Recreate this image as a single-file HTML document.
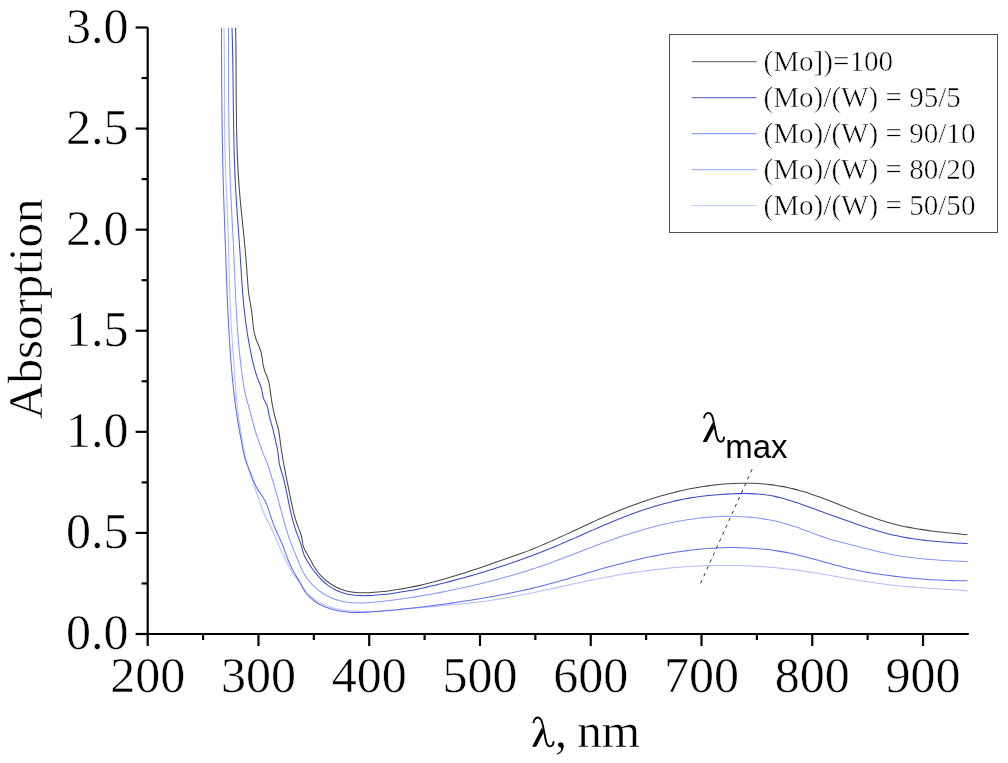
<!DOCTYPE html>
<html><head><meta charset="utf-8"><style>
html,body{margin:0;padding:0;background:#fff;width:1008px;height:763px;overflow:hidden}
svg{display:block}
#w{will-change:transform;width:1008px;height:763px}
.s{font-family:"Liberation Serif",serif;fill:#000;stroke:#fff;stroke-width:0.5px}
.a{font-family:"Liberation Sans",sans-serif;fill:#000}
</style></head><body>
<div id="w"><svg width="1008" height="763" viewBox="0 0 1008 763">
<rect width="1008" height="763" fill="#fff"/>
<path d="M223.90,27.75 C223.95,29.76 224.00,31.78 224.04,33.79 C224.08,35.81 224.12,37.82 224.16,39.83 C224.19,41.85 224.22,43.86 224.25,45.88 C224.27,47.89 224.30,49.90 224.32,51.92 C224.34,53.93 224.36,55.95 224.37,57.96 C224.39,59.98 224.40,61.99 224.41,64.01 C224.43,66.02 224.43,68.03 224.44,70.05 C224.45,72.06 224.46,74.08 224.46,76.09 C224.47,78.11 224.47,80.12 224.47,82.14 C224.48,84.15 224.48,86.17 224.48,88.18 C224.48,90.20 224.49,92.21 224.49,94.23 C224.49,96.24 224.49,98.26 224.50,100.27 C224.50,102.29 224.51,104.30 224.51,106.32 C224.52,108.33 224.52,110.34 224.53,112.36 C224.54,114.37 224.55,116.39 224.56,118.40 C224.57,120.42 224.58,122.43 224.60,124.45 C224.62,126.46 224.64,128.48 224.66,130.49 C224.68,132.50 224.70,134.52 224.73,136.53 C224.76,138.55 224.79,140.56 224.83,142.58 C224.86,144.59 224.90,146.60 224.94,148.62 C224.99,150.63 225.03,152.65 225.09,154.66 C225.14,156.67 225.20,158.69 225.26,160.70 C225.32,162.71 225.39,164.73 225.46,166.74 C225.53,168.75 225.60,170.77 225.68,172.78 C225.76,174.79 225.84,176.81 225.92,178.82 C226.01,180.83 226.09,182.85 226.18,184.86 C226.26,186.87 226.35,188.88 226.43,190.90 C226.52,192.91 226.60,194.92 226.69,196.94 C226.77,198.95 226.86,200.96 226.94,202.97 C227.03,204.99 227.11,207.00 227.19,209.01 C227.27,211.02 227.36,213.04 227.44,215.05 C227.51,217.06 227.59,219.07 227.67,221.09 C227.75,223.10 227.82,225.11 227.90,227.13 C227.97,229.14 228.04,231.15 228.11,233.17 C228.18,235.18 228.25,237.19 228.32,239.21 C228.38,241.22 228.45,243.23 228.51,245.25 C228.57,247.26 228.63,249.27 228.68,251.29 C228.74,253.30 228.79,255.31 228.84,257.33 C228.89,259.34 228.94,261.36 228.99,263.37 C229.04,265.39 229.09,267.40 229.13,269.42 C229.18,271.43 229.23,273.44 229.28,275.46 C229.33,277.47 229.38,279.49 229.44,281.50 C229.49,283.51 229.54,285.53 229.60,287.54 C229.66,289.56 229.72,291.57 229.79,293.58 C229.86,295.60 229.93,297.61 230.00,299.62 C230.08,301.64 230.16,303.65 230.24,305.66 C230.33,307.67 230.42,309.69 230.52,311.70 C230.62,313.71 230.73,315.72 230.84,317.73 C230.95,319.74 231.07,321.75 231.19,323.76 C231.31,325.77 231.43,327.78 231.56,329.79 C231.69,331.80 231.82,333.81 231.96,335.82 C232.09,337.83 232.23,339.84 232.37,341.85 C232.51,343.86 232.65,345.87 232.79,347.88 C232.93,349.89 233.07,351.90 233.20,353.91 C233.34,355.92 233.48,357.93 233.62,359.94 C233.75,361.95 233.89,363.96 234.02,365.98 C234.15,367.99 234.28,370.00 234.41,372.01 C234.54,374.02 234.68,376.03 234.81,378.04 C234.95,380.05 235.09,382.06 235.24,384.07 C235.38,386.08 235.54,388.08 235.70,390.09 C235.86,392.10 236.03,394.11 236.21,396.11 C236.40,398.12 236.59,400.12 236.80,402.12 C237.01,404.13 237.23,406.13 237.46,408.13 C237.70,410.13 237.94,412.13 238.20,414.12 C238.45,416.12 238.72,418.12 239.00,420.11 C239.28,422.11 239.57,424.10 239.87,426.10 C240.17,428.09 240.48,430.08 240.80,432.07 C241.11,434.06 241.44,436.05 241.78,438.04 C242.12,440.02 242.46,442.01 242.82,443.99 C243.17,445.98 243.53,447.96 243.91,449.94 C244.29,451.92 244.68,453.89 245.11,455.86 C245.54,457.83 245.99,459.78 246.50,461.73 C247.00,463.68 247.54,465.62 248.14,467.54 C248.74,469.46 249.39,471.37 250.04,473.28 C250.70,475.19 251.36,477.10 251.99,479.01 C252.61,480.93 253.21,482.85 253.82,484.77 C254.44,486.68 255.07,488.59 255.74,490.49 C256.41,492.39 257.11,494.27 257.80,496.17 C258.49,498.06 259.16,499.96 259.80,501.87 C260.44,503.79 261.07,505.70 261.74,507.60 C262.40,509.51 263.10,511.39 263.89,513.25 C264.67,515.10 265.54,516.91 266.46,518.71 C267.37,520.50 268.32,522.28 269.26,524.07 C270.20,525.85 271.11,527.65 271.96,529.48 C272.81,531.30 273.62,533.14 274.41,535.00 C275.19,536.85 275.96,538.71 276.73,540.57 C277.51,542.43 278.28,544.29 279.09,546.13 C279.90,547.97 280.74,549.80 281.62,551.61 C282.49,553.42 283.39,555.22 284.29,557.02 C285.19,558.82 286.07,560.63 286.96,562.44 C287.84,564.24 288.74,566.04 289.68,567.81 C290.62,569.58 291.62,571.32 292.70,573.00 C293.78,574.69 294.95,576.32 296.15,577.93 C297.35,579.55 298.58,581.14 299.80,582.75 C301.02,584.36 302.20,586.00 303.36,587.66 C304.51,589.31 305.66,590.97 306.94,592.50 C308.22,594.04 309.63,595.45 311.14,596.76 C312.64,598.06 314.25,599.26 315.93,600.35 C317.61,601.45 319.36,602.44 321.15,603.33 C322.95,604.23 324.79,605.03 326.67,605.74 C328.55,606.46 330.47,607.09 332.42,607.65 C334.37,608.20 336.34,608.68 338.34,609.10 C340.33,609.52 342.35,609.87 344.37,610.17 C346.39,610.46 348.42,610.70 350.45,610.90 C352.48,611.09 354.50,611.24 356.53,611.36 C358.55,611.47 360.57,611.54 362.58,611.58 C364.59,611.62 366.61,611.62 368.61,611.59 C370.62,611.57 372.63,611.51 374.63,611.44 C376.64,611.36 378.64,611.25 380.64,611.13 C382.64,611.01 384.64,610.87 386.64,610.71 C388.64,610.56 390.64,610.39 392.63,610.21 C394.63,610.03 396.63,609.84 398.63,609.65 C400.63,609.46 402.63,609.26 404.63,609.07 C406.63,608.87 408.63,608.68 410.63,608.49 C412.63,608.30 414.64,608.12 416.65,607.94 C418.65,607.76 420.66,607.58 422.67,607.40 C424.67,607.23 426.68,607.06 428.69,606.88 C430.70,606.71 432.71,606.54 434.72,606.36 C436.74,606.19 438.75,606.02 440.76,605.84 C442.77,605.67 444.78,605.49 446.79,605.31 C448.80,605.13 450.81,604.94 452.82,604.75 C454.83,604.56 456.84,604.37 458.85,604.17 C460.86,603.97 462.87,603.76 464.88,603.55 C466.88,603.34 468.89,603.12 470.89,602.89 C472.90,602.66 474.90,602.42 476.90,602.18 C478.90,601.93 480.90,601.67 482.90,601.41 C484.90,601.14 486.89,600.86 488.88,600.57 C490.88,600.28 492.87,599.98 494.86,599.66 C496.85,599.35 498.83,599.03 500.82,598.70 C502.80,598.37 504.79,598.03 506.77,597.68 C508.75,597.33 510.73,596.97 512.71,596.61 C514.69,596.24 516.67,595.87 518.65,595.49 C520.62,595.11 522.60,594.73 524.57,594.34 C526.55,593.95 528.52,593.55 530.49,593.15 C532.47,592.75 534.44,592.34 536.41,591.93 C538.38,591.52 540.35,591.10 542.32,590.69 C544.29,590.27 546.26,589.85 548.23,589.43 C550.20,589.01 552.17,588.58 554.13,588.16 C556.10,587.73 558.07,587.30 560.04,586.88 C562.01,586.45 563.98,586.02 565.94,585.59 C567.91,585.17 569.88,584.74 571.85,584.32 C573.82,583.89 575.79,583.47 577.76,583.05 C579.73,582.62 581.70,582.21 583.67,581.79 C585.64,581.37 587.61,580.96 589.58,580.55 C591.55,580.15 593.53,579.74 595.50,579.34 C597.48,578.94 599.45,578.55 601.43,578.16 C603.40,577.77 605.38,577.39 607.36,577.02 C609.34,576.64 611.32,576.27 613.30,575.91 C615.28,575.55 617.26,575.20 619.25,574.85 C621.23,574.51 623.22,574.17 625.21,573.85 C627.20,573.52 629.19,573.20 631.18,572.89 C633.17,572.58 635.16,572.28 637.15,571.99 C639.15,571.70 641.14,571.42 643.14,571.15 C645.14,570.87 647.14,570.61 649.14,570.36 C651.13,570.10 653.13,569.86 655.14,569.62 C657.14,569.39 659.14,569.16 661.14,568.94 C663.15,568.73 665.15,568.52 667.16,568.32 C669.16,568.12 671.17,567.94 673.18,567.76 C675.18,567.58 677.19,567.41 679.20,567.25 C681.21,567.10 683.22,566.95 685.23,566.81 C687.24,566.67 689.25,566.54 691.26,566.42 C693.27,566.31 695.28,566.20 697.29,566.10 C699.31,566.00 701.32,565.92 703.33,565.84 C705.34,565.76 707.35,565.69 709.37,565.64 C711.38,565.58 713.39,565.54 715.41,565.50 C717.42,565.47 719.43,565.44 721.44,565.43 C723.46,565.41 725.47,565.41 727.48,565.42 C729.50,565.43 731.51,565.45 733.52,565.48 C735.53,565.51 737.55,565.55 739.56,565.60 C741.57,565.65 743.58,565.71 745.59,565.79 C747.60,565.86 749.61,565.95 751.62,566.04 C753.63,566.14 755.64,566.25 757.65,566.37 C759.66,566.49 761.67,566.62 763.67,566.76 C765.68,566.90 767.69,567.06 769.69,567.22 C771.70,567.39 773.70,567.57 775.71,567.76 C777.71,567.95 779.71,568.15 781.71,568.36 C783.72,568.57 785.72,568.80 787.72,569.04 C789.72,569.27 791.71,569.52 793.71,569.78 C795.71,570.04 797.70,570.32 799.70,570.60 C801.69,570.88 803.69,571.17 805.68,571.47 C807.67,571.77 809.66,572.07 811.66,572.39 C813.65,572.70 815.64,573.02 817.63,573.35 C819.62,573.67 821.61,574.01 823.60,574.34 C825.59,574.67 827.58,575.01 829.57,575.35 C831.55,575.69 833.54,576.04 835.53,576.38 C837.52,576.72 839.51,577.07 841.50,577.41 C843.49,577.75 845.47,578.10 847.46,578.44 C849.45,578.78 851.44,579.12 853.43,579.45 C855.42,579.79 857.41,580.12 859.40,580.44 C861.39,580.77 863.38,581.09 865.37,581.40 C867.36,581.72 869.35,582.03 871.35,582.33 C873.34,582.63 875.33,582.92 877.33,583.20 C879.32,583.48 881.32,583.75 883.31,584.01 C885.31,584.28 887.31,584.53 889.30,584.76 C891.30,585.00 893.30,585.23 895.30,585.44 C897.31,585.66 899.31,585.86 901.31,586.05 C903.31,586.25 905.32,586.43 907.32,586.60 C909.33,586.78 911.33,586.95 913.34,587.11 C915.35,587.27 917.35,587.42 919.36,587.57 C921.37,587.72 923.38,587.86 925.39,588.00 C927.40,588.13 929.41,588.27 931.42,588.40 C933.43,588.53 935.44,588.66 937.45,588.79 C939.46,588.92 941.47,589.04 943.48,589.17 C945.49,589.30 947.50,589.42 949.51,589.55 C951.52,589.68 953.53,589.81 955.54,589.95 C957.55,590.08 959.56,590.22 961.57,590.36 C963.58,590.50 965.59,590.65 967.60,590.80" fill="none" stroke="#b4bdff" stroke-width="1.05"/>
<path d="M221.51,27.75 C221.51,29.77 221.51,31.78 221.52,33.80 C221.52,35.81 221.52,37.83 221.52,39.84 C221.53,41.86 221.53,43.87 221.54,45.89 C221.54,47.90 221.55,49.92 221.55,51.93 C221.56,53.95 221.56,55.96 221.57,57.98 C221.58,59.99 221.59,62.01 221.59,64.02 C221.60,66.04 221.61,68.05 221.62,70.07 C221.63,72.09 221.64,74.10 221.65,76.12 C221.66,78.13 221.68,80.15 221.69,82.16 C221.70,84.18 221.72,86.19 221.73,88.21 C221.75,90.22 221.76,92.24 221.78,94.25 C221.80,96.27 221.81,98.28 221.83,100.30 C221.85,102.31 221.87,104.33 221.89,106.34 C221.91,108.36 221.93,110.37 221.96,112.39 C221.98,114.40 222.00,116.42 222.03,118.43 C222.05,120.45 222.08,122.46 222.11,124.48 C222.14,126.49 222.17,128.51 222.20,130.52 C222.22,132.54 222.26,134.55 222.29,136.57 C222.32,138.58 222.35,140.60 222.39,142.61 C222.43,144.63 222.46,146.64 222.50,148.66 C222.54,150.67 222.58,152.69 222.62,154.70 C222.66,156.71 222.70,158.73 222.74,160.74 C222.79,162.76 222.83,164.77 222.88,166.79 C222.93,168.80 222.97,170.82 223.02,172.83 C223.07,174.84 223.12,176.86 223.18,178.87 C223.23,180.89 223.28,182.90 223.34,184.92 C223.40,186.93 223.45,188.94 223.51,190.96 C223.57,192.97 223.63,194.99 223.70,197.00 C223.76,199.02 223.82,201.03 223.89,203.04 C223.95,205.06 224.02,207.07 224.09,209.08 C224.16,211.10 224.22,213.11 224.29,215.13 C224.36,217.14 224.43,219.15 224.50,221.17 C224.57,223.18 224.65,225.20 224.72,227.21 C224.79,229.22 224.86,231.24 224.93,233.25 C225.00,235.27 225.08,237.28 225.15,239.29 C225.22,241.31 225.29,243.32 225.36,245.34 C225.44,247.35 225.51,249.36 225.58,251.38 C225.65,253.39 225.72,255.41 225.79,257.42 C225.86,259.43 225.93,261.45 226.00,263.46 C226.07,265.48 226.14,267.49 226.21,269.51 C226.28,271.52 226.36,273.53 226.43,275.55 C226.50,277.56 226.58,279.58 226.65,281.59 C226.72,283.60 226.80,285.62 226.88,287.63 C226.95,289.65 227.03,291.66 227.11,293.67 C227.19,295.69 227.28,297.70 227.36,299.71 C227.44,301.73 227.53,303.74 227.62,305.75 C227.71,307.77 227.80,309.78 227.89,311.79 C227.99,313.80 228.08,315.82 228.18,317.83 C228.28,319.84 228.39,321.85 228.49,323.87 C228.60,325.88 228.71,327.89 228.82,329.90 C228.93,331.91 229.05,333.93 229.17,335.94 C229.29,337.95 229.41,339.96 229.54,341.97 C229.67,343.98 229.80,345.99 229.94,348.00 C230.08,350.01 230.22,352.02 230.37,354.03 C230.52,356.04 230.67,358.05 230.82,360.06 C230.98,362.07 231.14,364.07 231.31,366.08 C231.48,368.09 231.65,370.10 231.83,372.11 C232.01,374.11 232.20,376.12 232.39,378.13 C232.58,380.13 232.77,382.14 232.98,384.15 C233.18,386.15 233.39,388.16 233.61,390.16 C233.83,392.17 234.06,394.17 234.29,396.17 C234.53,398.17 234.77,400.17 235.02,402.17 C235.27,404.17 235.54,406.17 235.81,408.17 C236.08,410.17 236.37,412.16 236.66,414.16 C236.95,416.15 237.26,418.14 237.58,420.13 C237.90,422.12 238.23,424.11 238.57,426.09 C238.91,428.08 239.27,430.06 239.64,432.04 C240.01,434.02 240.39,435.99 240.78,437.97 C241.16,439.95 241.54,441.93 241.90,443.92 C242.26,445.90 242.61,447.89 242.99,449.87 C243.37,451.85 243.79,453.82 244.30,455.77 C244.80,457.71 245.40,459.62 246.06,461.52 C246.71,463.42 247.43,465.30 248.17,467.18 C248.91,469.06 249.67,470.93 250.41,472.81 C251.16,474.69 251.87,476.59 252.59,478.48 C253.31,480.37 254.04,482.24 254.86,484.07 C255.68,485.90 256.59,487.69 257.65,489.38 C258.70,491.08 259.93,492.68 261.08,494.34 C262.23,496.00 263.30,497.71 264.27,499.47 C265.25,501.23 266.12,503.05 266.87,504.92 C267.62,506.79 268.26,508.70 268.88,510.63 C269.50,512.56 270.10,514.49 270.73,516.41 C271.37,518.32 272.03,520.23 272.72,522.12 C273.41,524.01 274.12,525.89 274.88,527.75 C275.63,529.61 276.42,531.46 277.24,533.30 C278.07,535.13 278.94,536.95 279.80,538.77 C280.67,540.59 281.52,542.41 282.30,544.27 C283.09,546.12 283.79,548.01 284.46,549.91 C285.14,551.81 285.79,553.72 286.48,555.62 C287.17,557.52 287.90,559.40 288.67,561.26 C289.45,563.12 290.26,564.96 291.13,566.78 C292.00,568.60 292.93,570.39 293.90,572.15 C294.88,573.91 295.91,575.65 296.94,577.38 C297.97,579.11 299.00,580.84 299.97,582.59 C300.94,584.35 301.82,586.15 302.76,587.92 C303.69,589.68 304.77,591.39 305.99,592.98 C307.22,594.58 308.57,596.07 310.02,597.44 C311.47,598.82 313.03,600.09 314.67,601.25 C316.31,602.41 318.03,603.47 319.81,604.43 C321.59,605.39 323.44,606.25 325.32,607.02 C327.20,607.78 329.13,608.46 331.08,609.04 C333.02,609.63 334.98,610.13 336.95,610.55 C338.92,610.97 340.90,611.31 342.88,611.58 C344.87,611.86 346.86,612.06 348.85,612.21 C350.85,612.35 352.85,612.44 354.86,612.48 C356.86,612.52 358.87,612.51 360.89,612.46 C362.90,612.42 364.91,612.33 366.93,612.23 C368.95,612.12 370.97,611.98 372.98,611.83 C375.00,611.68 377.02,611.51 379.03,611.34 C381.05,611.16 383.06,610.99 385.08,610.80 C387.09,610.62 389.10,610.44 391.11,610.24 C393.12,610.05 395.13,609.86 397.14,609.66 C399.14,609.46 401.15,609.25 403.15,609.04 C405.16,608.83 407.16,608.62 409.16,608.40 C411.16,608.18 413.16,607.96 415.16,607.73 C417.16,607.50 419.16,607.27 421.16,607.03 C423.16,606.79 425.15,606.55 427.15,606.30 C429.15,606.06 431.14,605.81 433.14,605.55 C435.13,605.29 437.12,605.03 439.12,604.77 C441.11,604.50 443.10,604.23 445.09,603.96 C447.09,603.68 449.08,603.40 451.07,603.12 C453.06,602.83 455.05,602.54 457.04,602.25 C459.03,601.95 461.02,601.65 463.01,601.35 C465.00,601.05 466.99,600.74 468.98,600.42 C470.97,600.11 472.96,599.79 474.95,599.47 C476.93,599.14 478.92,598.82 480.91,598.48 C482.90,598.15 484.89,597.81 486.87,597.46 C488.86,597.11 490.85,596.76 492.83,596.40 C494.82,596.04 496.80,595.68 498.78,595.31 C500.77,594.93 502.75,594.55 504.73,594.17 C506.71,593.78 508.69,593.39 510.67,592.99 C512.64,592.58 514.62,592.17 516.59,591.76 C518.57,591.34 520.54,590.91 522.51,590.48 C524.48,590.04 526.44,589.60 528.41,589.15 C530.37,588.69 532.34,588.23 534.30,587.76 C536.26,587.29 538.21,586.81 540.17,586.32 C542.12,585.83 544.08,585.32 546.03,584.81 C547.97,584.30 549.92,583.78 551.86,583.25 C553.81,582.72 555.75,582.18 557.69,581.64 C559.63,581.09 561.56,580.54 563.50,579.99 C565.44,579.43 567.37,578.87 569.30,578.30 C571.24,577.74 573.17,577.17 575.10,576.60 C577.03,576.03 578.96,575.46 580.89,574.88 C582.83,574.31 584.76,573.74 586.69,573.17 C588.62,572.60 590.55,572.03 592.48,571.46 C594.42,570.90 596.35,570.34 598.28,569.78 C600.22,569.22 602.16,568.67 604.09,568.12 C606.03,567.58 607.97,567.04 609.91,566.51 C611.86,565.97 613.80,565.45 615.74,564.93 C617.69,564.42 619.64,563.91 621.59,563.41 C623.54,562.91 625.49,562.42 627.44,561.93 C629.40,561.45 631.35,560.97 633.31,560.51 C635.27,560.05 637.23,559.59 639.19,559.14 C641.16,558.70 643.12,558.26 645.09,557.84 C647.05,557.41 649.02,557.00 650.99,556.59 C652.97,556.19 654.94,555.80 656.92,555.42 C658.89,555.04 660.87,554.67 662.85,554.31 C664.83,553.95 666.81,553.61 668.80,553.27 C670.79,552.94 672.77,552.62 674.76,552.31 C676.75,552.00 678.75,551.71 680.74,551.43 C682.74,551.15 684.74,550.88 686.74,550.63 C688.74,550.37 690.74,550.13 692.74,549.91 C694.75,549.69 696.76,549.48 698.77,549.28 C700.78,549.09 702.79,548.91 704.80,548.75 C706.82,548.58 708.83,548.44 710.85,548.31 C712.86,548.18 714.88,548.06 716.89,547.97 C718.91,547.87 720.93,547.79 722.95,547.73 C724.97,547.67 726.98,547.62 729.00,547.60 C731.02,547.58 733.04,547.57 735.06,547.58 C737.07,547.60 739.09,547.63 741.11,547.68 C743.12,547.73 745.13,547.81 747.15,547.90 C749.16,547.99 751.17,548.10 753.18,548.24 C755.19,548.37 757.20,548.53 759.20,548.71 C761.21,548.88 763.21,549.08 765.21,549.30 C767.21,549.52 769.21,549.76 771.20,550.03 C773.20,550.29 775.19,550.58 777.17,550.89 C779.16,551.20 781.14,551.54 783.12,551.89 C785.10,552.25 787.08,552.63 789.05,553.03 C791.02,553.43 792.99,553.86 794.95,554.31 C796.91,554.76 798.87,555.22 800.82,555.71 C802.78,556.19 804.73,556.69 806.68,557.20 C808.63,557.71 810.58,558.23 812.53,558.76 C814.48,559.29 816.42,559.82 818.37,560.36 C820.31,560.90 822.26,561.45 824.20,561.99 C826.15,562.53 828.09,563.07 830.04,563.61 C831.99,564.14 833.93,564.67 835.88,565.20 C837.83,565.72 839.78,566.23 841.74,566.73 C843.69,567.23 845.65,567.71 847.61,568.18 C849.57,568.65 851.53,569.09 853.50,569.52 C855.47,569.95 857.44,570.37 859.41,570.76 C861.39,571.16 863.37,571.53 865.35,571.90 C867.33,572.26 869.31,572.61 871.30,572.94 C873.28,573.27 875.27,573.59 877.26,573.90 C879.25,574.21 881.25,574.50 883.24,574.78 C885.24,575.07 887.23,575.34 889.23,575.60 C891.23,575.86 893.23,576.12 895.23,576.36 C897.23,576.60 899.23,576.84 901.23,577.06 C903.24,577.29 905.24,577.50 907.25,577.71 C909.25,577.91 911.26,578.11 913.26,578.29 C915.27,578.48 917.28,578.66 919.29,578.82 C921.30,578.99 923.31,579.14 925.32,579.29 C927.33,579.43 929.34,579.57 931.35,579.69 C933.36,579.82 935.37,579.93 937.39,580.04 C939.40,580.14 941.41,580.23 943.43,580.32 C945.44,580.40 947.45,580.47 949.47,580.53 C951.48,580.60 953.50,580.65 955.51,580.69 C957.53,580.73 959.54,580.76 961.55,580.78 C963.57,580.80 965.58,580.80 967.60,580.80" fill="none" stroke="#5f6ff2" stroke-width="1.05"/>
<path d="M228.51,27.75 C228.51,29.77 228.50,31.79 228.50,33.81 C228.50,35.83 228.49,37.85 228.49,39.86 C228.49,41.88 228.49,43.90 228.48,45.92 C228.48,47.94 228.48,49.96 228.48,51.98 C228.48,54.00 228.48,56.02 228.48,58.04 C228.48,60.06 228.48,62.08 228.48,64.10 C228.48,66.12 228.48,68.14 228.49,70.16 C228.49,72.18 228.49,74.20 228.50,76.22 C228.51,78.23 228.51,80.25 228.52,82.27 C228.53,84.29 228.54,86.31 228.55,88.33 C228.56,90.35 228.57,92.37 228.58,94.39 C228.59,96.41 228.61,98.43 228.62,100.45 C228.64,102.47 228.65,104.49 228.67,106.51 C228.69,108.53 228.71,110.55 228.73,112.57 C228.76,114.58 228.78,116.60 228.81,118.62 C228.83,120.64 228.86,122.66 228.89,124.68 C228.92,126.70 228.95,128.72 228.98,130.74 C229.02,132.76 229.05,134.78 229.09,136.79 C229.13,138.81 229.17,140.83 229.21,142.85 C229.25,144.87 229.30,146.89 229.35,148.91 C229.39,150.93 229.44,152.94 229.49,154.96 C229.55,156.98 229.60,159.00 229.66,161.02 C229.72,163.04 229.78,165.05 229.84,167.07 C229.90,169.09 229.97,171.11 230.03,173.13 C230.10,175.14 230.17,177.16 230.25,179.18 C230.32,181.20 230.40,183.22 230.48,185.23 C230.56,187.25 230.65,189.27 230.73,191.28 C230.82,193.30 230.91,195.32 231.00,197.34 C231.09,199.35 231.19,201.37 231.29,203.39 C231.38,205.40 231.48,207.42 231.58,209.44 C231.68,211.45 231.78,213.47 231.89,215.49 C231.99,217.50 232.09,219.52 232.19,221.54 C232.30,223.55 232.40,225.57 232.50,227.59 C232.61,229.61 232.71,231.62 232.81,233.64 C232.92,235.66 233.02,237.67 233.12,239.69 C233.22,241.71 233.31,243.72 233.41,245.74 C233.51,247.76 233.60,249.78 233.69,251.79 C233.78,253.81 233.87,255.83 233.96,257.85 C234.05,259.87 234.13,261.88 234.22,263.90 C234.31,265.92 234.39,267.94 234.47,269.95 C234.56,271.97 234.64,273.99 234.73,276.01 C234.81,278.03 234.89,280.04 234.98,282.06 C235.07,284.08 235.15,286.10 235.24,288.11 C235.33,290.13 235.42,292.15 235.51,294.17 C235.61,296.18 235.70,298.20 235.80,300.22 C235.90,302.23 236.00,304.25 236.10,306.27 C236.21,308.28 236.32,310.30 236.43,312.31 C236.54,314.33 236.66,316.35 236.78,318.36 C236.91,320.38 237.03,322.39 237.17,324.40 C237.30,326.42 237.44,328.43 237.58,330.45 C237.73,332.46 237.88,334.47 238.04,336.48 C238.20,338.50 238.37,340.51 238.54,342.52 C238.71,344.53 238.90,346.54 239.09,348.55 C239.28,350.56 239.47,352.57 239.68,354.58 C239.89,356.59 240.11,358.60 240.33,360.60 C240.56,362.61 240.79,364.62 241.04,366.62 C241.29,368.63 241.54,370.64 241.81,372.64 C242.08,374.64 242.36,376.65 242.65,378.65 C242.94,380.65 243.24,382.66 243.56,384.65 C243.89,386.65 244.24,388.64 244.62,390.63 C245.01,392.61 245.43,394.58 245.91,396.54 C246.38,398.49 246.92,400.43 247.49,402.35 C248.05,404.28 248.63,406.21 249.18,408.15 C249.72,410.10 250.24,412.05 250.75,414.01 C251.26,415.96 251.75,417.92 252.25,419.88 C252.75,421.84 253.26,423.79 253.79,425.74 C254.32,427.68 254.88,429.62 255.48,431.55 C256.08,433.48 256.71,435.40 257.37,437.31 C258.03,439.22 258.70,441.13 259.39,443.03 C260.08,444.93 260.77,446.83 261.46,448.72 C262.15,450.62 262.82,452.52 263.54,454.40 C264.25,456.27 265.06,458.11 265.88,459.95 C266.69,461.78 267.45,463.64 268.11,465.54 C268.77,467.44 269.36,469.37 269.93,471.31 C270.50,473.24 271.06,475.18 271.65,477.12 C272.24,479.05 272.84,480.98 273.43,482.91 C274.01,484.85 274.59,486.78 275.15,488.72 C275.71,490.66 276.25,492.60 276.79,494.55 C277.32,496.49 277.85,498.44 278.37,500.39 C278.89,502.34 279.41,504.29 279.93,506.24 C280.45,508.19 280.97,510.15 281.49,512.10 C282.01,514.05 282.54,516.00 283.08,517.95 C283.62,519.90 284.17,521.84 284.73,523.78 C285.29,525.72 285.86,527.66 286.45,529.59 C287.04,531.52 287.65,533.45 288.28,535.37 C288.90,537.28 289.56,539.19 290.23,541.09 C290.91,543.00 291.61,544.89 292.34,546.77 C293.07,548.65 293.83,550.52 294.61,552.38 C295.38,554.25 296.17,556.11 296.97,557.96 C297.76,559.82 298.56,561.68 299.36,563.53 C300.15,565.39 300.91,567.26 301.74,569.10 C302.56,570.94 303.47,572.74 304.49,574.48 C305.52,576.21 306.65,577.89 307.87,579.51 C309.09,581.12 310.40,582.66 311.79,584.13 C313.19,585.61 314.66,587.01 316.20,588.33 C317.74,589.65 319.35,590.89 321.02,592.04 C322.69,593.20 324.41,594.27 326.18,595.25 C327.95,596.23 329.77,597.12 331.62,597.92 C333.47,598.71 335.36,599.41 337.27,600.01 C339.18,600.60 341.11,601.09 343.06,601.49 C345.01,601.89 346.97,602.20 348.96,602.43 C350.94,602.66 352.93,602.81 354.94,602.90 C356.95,602.99 358.96,603.01 360.99,602.98 C363.01,602.95 365.04,602.87 367.08,602.75 C369.11,602.64 371.15,602.48 373.18,602.30 C375.22,602.12 377.25,601.92 379.28,601.71 C381.31,601.49 383.34,601.27 385.36,601.04 C387.38,600.80 389.40,600.56 391.41,600.31 C393.42,600.06 395.43,599.80 397.43,599.52 C399.44,599.25 401.44,598.98 403.43,598.69 C405.43,598.40 407.43,598.10 409.42,597.80 C411.41,597.49 413.40,597.18 415.38,596.86 C417.37,596.54 419.35,596.21 421.33,595.87 C423.32,595.53 425.30,595.19 427.27,594.83 C429.25,594.48 431.23,594.12 433.20,593.75 C435.18,593.39 437.15,593.01 439.13,592.63 C441.10,592.25 443.07,591.86 445.05,591.47 C447.02,591.07 448.99,590.67 450.97,590.26 C452.94,589.86 454.91,589.44 456.89,589.02 C458.86,588.60 460.83,588.18 462.80,587.74 C464.78,587.31 466.75,586.87 468.72,586.42 C470.69,585.97 472.66,585.52 474.63,585.06 C476.60,584.60 478.56,584.13 480.53,583.65 C482.50,583.18 484.46,582.69 486.43,582.20 C488.39,581.71 490.35,581.21 492.31,580.71 C494.27,580.20 496.23,579.68 498.19,579.16 C500.14,578.64 502.10,578.11 504.05,577.57 C506.00,577.03 507.95,576.48 509.90,575.93 C511.84,575.37 513.79,574.81 515.73,574.24 C517.67,573.66 519.61,573.08 521.54,572.49 C523.47,571.90 525.41,571.30 527.33,570.69 C529.26,570.08 531.18,569.46 533.10,568.84 C535.02,568.21 536.94,567.57 538.85,566.93 C540.76,566.28 542.67,565.62 544.58,564.96 C546.48,564.29 548.38,563.62 550.27,562.93 C552.17,562.25 554.06,561.56 555.95,560.86 C557.84,560.16 559.72,559.45 561.61,558.74 C563.49,558.03 565.37,557.32 567.25,556.60 C569.13,555.88 571.01,555.15 572.89,554.43 C574.77,553.70 576.64,552.98 578.52,552.25 C580.40,551.52 582.27,550.79 584.15,550.07 C586.03,549.34 587.91,548.62 589.79,547.89 C591.67,547.17 593.55,546.45 595.44,545.74 C597.32,545.02 599.21,544.31 601.10,543.61 C602.99,542.91 604.88,542.21 606.78,541.52 C608.68,540.83 610.58,540.15 612.49,539.47 C614.39,538.80 616.30,538.14 618.22,537.48 C620.13,536.83 622.05,536.18 623.97,535.55 C625.89,534.92 627.82,534.29 629.75,533.68 C631.68,533.07 633.61,532.47 635.55,531.88 C637.49,531.29 639.43,530.71 641.38,530.15 C643.32,529.59 645.27,529.04 647.22,528.50 C649.18,527.96 651.13,527.44 653.09,526.93 C655.05,526.43 657.01,525.93 658.98,525.46 C660.94,524.98 662.91,524.52 664.89,524.07 C666.86,523.62 668.83,523.19 670.81,522.78 C672.79,522.37 674.77,521.97 676.75,521.59 C678.74,521.22 680.73,520.86 682.72,520.51 C684.70,520.17 686.70,519.85 688.69,519.55 C690.69,519.24 692.68,518.96 694.68,518.70 C696.68,518.43 698.69,518.19 700.69,517.97 C702.70,517.74 704.70,517.54 706.71,517.36 C708.72,517.19 710.73,517.03 712.75,516.89 C714.76,516.76 716.77,516.65 718.79,516.56 C720.81,516.47 722.82,516.41 724.84,516.37 C726.86,516.33 728.88,516.31 730.89,516.32 C732.91,516.33 734.92,516.37 736.94,516.43 C738.95,516.49 740.97,516.58 742.98,516.70 C744.99,516.81 747.00,516.96 749.01,517.13 C751.01,517.30 753.02,517.50 755.02,517.73 C757.02,517.95 759.01,518.21 761.00,518.50 C762.99,518.79 764.98,519.10 766.96,519.45 C768.95,519.80 770.92,520.18 772.89,520.59 C774.86,521.00 776.83,521.45 778.79,521.92 C780.75,522.40 782.70,522.90 784.64,523.45 C786.59,523.99 788.52,524.56 790.45,525.17 C792.38,525.78 794.30,526.42 796.21,527.09 C798.13,527.76 800.04,528.44 801.94,529.15 C803.85,529.85 805.75,530.56 807.65,531.28 C809.56,532.00 811.46,532.72 813.36,533.43 C815.26,534.14 817.16,534.85 819.07,535.54 C820.98,536.23 822.89,536.91 824.80,537.55 C826.72,538.20 828.64,538.82 830.57,539.40 C832.50,539.98 834.43,540.53 836.38,541.06 C838.32,541.59 840.27,542.10 842.22,542.59 C844.17,543.09 846.12,543.58 848.07,544.07 C850.03,544.56 851.98,545.06 853.94,545.56 C855.89,546.06 857.85,546.57 859.80,547.07 C861.76,547.58 863.71,548.08 865.67,548.58 C867.63,549.08 869.59,549.58 871.55,550.06 C873.52,550.55 875.48,551.03 877.45,551.49 C879.41,551.95 881.38,552.40 883.36,552.83 C885.33,553.27 887.31,553.68 889.29,554.07 C891.27,554.46 893.25,554.83 895.24,555.18 C897.23,555.53 899.22,555.86 901.21,556.17 C903.21,556.48 905.21,556.77 907.21,557.05 C909.21,557.32 911.21,557.57 913.21,557.81 C915.22,558.05 917.23,558.28 919.23,558.49 C921.24,558.70 923.25,558.89 925.27,559.08 C927.28,559.26 929.29,559.43 931.31,559.59 C933.32,559.75 935.34,559.90 937.36,560.04 C939.37,560.17 941.39,560.30 943.41,560.43 C945.42,560.55 947.44,560.66 949.46,560.77 C951.48,560.88 953.49,560.98 955.51,561.07 C957.53,561.17 959.54,561.26 961.56,561.35 C963.57,561.44 965.59,561.52 967.60,561.61" fill="none" stroke="#8a98ff" stroke-width="1.05"/>
<path d="M232.00,27.75 C232.07,29.76 232.13,31.78 232.19,33.79 C232.24,35.81 232.30,37.82 232.35,39.84 C232.40,41.85 232.45,43.87 232.49,45.88 C232.54,47.90 232.58,49.91 232.62,51.93 C232.66,53.94 232.69,55.96 232.73,57.98 C232.76,59.99 232.80,62.01 232.83,64.02 C232.86,66.04 232.89,68.05 232.92,70.07 C232.95,72.09 232.97,74.10 233.00,76.12 C233.02,78.14 233.05,80.15 233.07,82.17 C233.10,84.18 233.12,86.20 233.14,88.22 C233.17,90.23 233.19,92.25 233.21,94.27 C233.24,96.28 233.26,98.30 233.28,100.31 C233.31,102.33 233.33,104.35 233.35,106.36 C233.38,108.38 233.40,110.40 233.43,112.41 C233.46,114.43 233.48,116.44 233.51,118.46 C233.54,120.48 233.57,122.49 233.60,124.51 C233.63,126.52 233.67,128.54 233.70,130.56 C233.74,132.57 233.78,134.59 233.82,136.60 C233.86,138.62 233.90,140.63 233.95,142.65 C233.99,144.67 234.04,146.68 234.09,148.70 C234.15,150.71 234.20,152.73 234.26,154.74 C234.32,156.76 234.38,158.77 234.45,160.78 C234.51,162.80 234.58,164.81 234.66,166.83 C234.73,168.84 234.81,170.86 234.89,172.87 C234.97,174.88 235.06,176.90 235.15,178.91 C235.25,180.92 235.34,182.94 235.45,184.95 C235.55,186.96 235.66,188.98 235.77,190.99 C235.88,193.00 236.00,195.01 236.13,197.02 C236.25,199.04 236.38,201.05 236.51,203.06 C236.64,205.07 236.78,207.08 236.91,209.09 C237.05,211.11 237.19,213.12 237.34,215.13 C237.48,217.14 237.62,219.15 237.77,221.16 C237.91,223.17 238.06,225.18 238.21,227.19 C238.35,229.21 238.50,231.22 238.64,233.23 C238.79,235.24 238.93,237.25 239.07,239.26 C239.22,241.27 239.36,243.28 239.50,245.29 C239.63,247.31 239.77,249.32 239.90,251.33 C240.03,253.34 240.16,255.35 240.29,257.36 C240.42,259.38 240.54,261.39 240.67,263.40 C240.79,265.41 240.92,267.42 241.05,269.44 C241.17,271.45 241.30,273.46 241.43,275.47 C241.56,277.48 241.70,279.49 241.84,281.50 C241.98,283.51 242.12,285.52 242.27,287.53 C242.42,289.54 242.58,291.55 242.74,293.56 C242.90,295.57 243.07,297.58 243.25,299.58 C243.43,301.59 243.62,303.60 243.82,305.60 C244.02,307.61 244.23,309.62 244.46,311.62 C244.68,313.62 244.91,315.63 245.16,317.63 C245.41,319.63 245.66,321.63 245.94,323.63 C246.21,325.63 246.49,327.63 246.79,329.62 C247.08,331.62 247.39,333.61 247.71,335.60 C248.03,337.60 248.37,339.59 248.72,341.57 C249.06,343.56 249.43,345.54 249.80,347.52 C250.17,349.50 250.56,351.48 250.97,353.46 C251.37,355.43 251.79,357.40 252.23,359.37 C252.68,361.33 253.14,363.29 253.64,365.24 C254.14,367.19 254.66,369.14 255.22,371.08 C255.78,373.01 256.39,374.94 257.06,376.84 C257.73,378.74 258.51,380.61 259.29,382.47 C260.08,384.33 260.83,386.20 261.33,388.15 C261.84,390.11 262.12,392.14 262.49,394.13 C262.86,396.12 263.31,398.07 264.13,399.87 C264.95,401.66 266.15,403.30 266.91,405.12 C267.67,406.94 268.02,408.91 268.32,410.91 C268.63,412.92 268.94,414.93 269.41,416.90 C269.89,418.86 270.47,420.80 271.06,422.73 C271.65,424.66 272.24,426.58 272.75,428.53 C273.26,430.48 273.69,432.45 274.11,434.42 C274.53,436.39 274.93,438.37 275.39,440.33 C275.84,442.30 276.33,444.26 276.77,446.23 C277.21,448.20 277.61,450.17 277.90,452.17 C278.18,454.16 278.38,456.18 278.60,458.18 C278.82,460.19 279.07,462.19 279.46,464.16 C279.85,466.13 280.41,468.07 281.01,469.99 C281.62,471.92 282.27,473.84 282.83,475.77 C283.38,477.71 283.88,479.66 284.33,481.63 C284.79,483.59 285.21,485.56 285.62,487.53 C286.04,489.50 286.44,491.48 286.84,493.46 C287.24,495.43 287.64,497.41 288.04,499.39 C288.43,501.37 288.84,503.35 289.25,505.32 C289.67,507.30 290.09,509.27 290.54,511.24 C290.99,513.20 291.45,515.16 291.94,517.12 C292.43,519.07 292.95,521.01 293.50,522.95 C294.05,524.88 294.64,526.81 295.26,528.72 C295.89,530.64 296.56,532.54 297.27,534.42 C297.99,536.31 298.74,538.19 299.45,540.08 C300.16,541.97 300.83,543.87 301.40,545.80 C301.96,547.74 302.37,549.73 302.91,551.65 C303.46,553.58 304.20,555.41 305.10,557.15 C306.01,558.90 307.00,560.62 308.05,562.35 C309.10,564.08 310.21,565.79 311.38,567.48 C312.55,569.17 313.78,570.84 315.06,572.45 C316.35,574.07 317.69,575.65 319.09,577.16 C320.49,578.67 321.94,580.12 323.45,581.50 C324.95,582.87 326.51,584.16 328.12,585.36 C329.73,586.56 331.39,587.66 333.10,588.65 C334.81,589.64 336.57,590.51 338.37,591.27 C340.17,592.02 342.02,592.66 343.90,593.19 C345.78,593.73 347.70,594.16 349.65,594.51 C351.59,594.85 353.57,595.11 355.56,595.29 C357.56,595.48 359.58,595.58 361.61,595.63 C363.64,595.68 365.68,595.67 367.73,595.61 C369.78,595.55 371.84,595.44 373.89,595.30 C375.94,595.17 378.00,594.99 380.04,594.80 C382.08,594.61 384.12,594.39 386.14,594.16 C388.17,593.93 390.19,593.68 392.20,593.41 C394.21,593.14 396.22,592.85 398.22,592.55 C400.22,592.25 402.21,591.92 404.20,591.59 C406.18,591.25 408.16,590.90 410.14,590.53 C412.11,590.17 414.09,589.78 416.05,589.39 C418.02,589.00 419.98,588.59 421.94,588.17 C423.90,587.75 425.85,587.32 427.81,586.88 C429.76,586.43 431.71,585.98 433.66,585.52 C435.60,585.05 437.55,584.58 439.49,584.10 C441.44,583.62 443.38,583.13 445.32,582.64 C447.26,582.14 449.20,581.64 451.14,581.13 C453.09,580.62 455.03,580.10 456.97,579.58 C458.91,579.06 460.85,578.53 462.79,577.99 C464.73,577.46 466.66,576.92 468.60,576.37 C470.54,575.82 472.48,575.27 474.41,574.70 C476.35,574.14 478.28,573.57 480.21,573.00 C482.15,572.42 484.08,571.84 486.01,571.25 C487.94,570.66 489.87,570.06 491.79,569.46 C493.72,568.85 495.65,568.24 497.57,567.62 C499.49,567.01 501.41,566.38 503.33,565.75 C505.25,565.11 507.16,564.47 509.08,563.82 C510.99,563.17 512.90,562.52 514.81,561.85 C516.72,561.19 518.62,560.52 520.53,559.84 C522.43,559.16 524.33,558.47 526.23,557.78 C528.12,557.08 530.02,556.38 531.90,555.66 C533.79,554.95 535.68,554.23 537.56,553.50 C539.45,552.78 541.32,552.04 543.20,551.29 C545.07,550.55 546.95,549.80 548.81,549.03 C550.68,548.27 552.54,547.50 554.40,546.72 C556.26,545.95 558.12,545.16 559.97,544.37 C561.82,543.58 563.68,542.79 565.52,541.99 C567.37,541.19 569.22,540.39 571.06,539.58 C572.91,538.77 574.75,537.96 576.60,537.15 C578.44,536.34 580.28,535.53 582.12,534.72 C583.97,533.91 585.81,533.10 587.65,532.29 C589.49,531.48 591.34,530.67 593.18,529.86 C595.03,529.06 596.87,528.26 598.72,527.46 C600.57,526.66 602.42,525.86 604.27,525.08 C606.12,524.29 607.98,523.50 609.83,522.73 C611.69,521.95 613.55,521.18 615.42,520.42 C617.28,519.66 619.15,518.91 621.02,518.17 C622.90,517.43 624.77,516.70 626.66,515.97 C628.54,515.25 630.43,514.54 632.32,513.85 C634.21,513.15 636.11,512.47 638.01,511.80 C639.92,511.13 641.83,510.47 643.74,509.83 C645.66,509.19 647.57,508.56 649.50,507.95 C651.42,507.34 653.35,506.74 655.29,506.16 C657.22,505.59 659.16,505.03 661.10,504.48 C663.04,503.94 664.99,503.42 666.94,502.91 C668.90,502.41 670.85,501.92 672.81,501.46 C674.77,501.00 676.74,500.55 678.71,500.13 C680.67,499.71 682.65,499.31 684.62,498.93 C686.60,498.56 688.58,498.20 690.57,497.87 C692.55,497.54 694.54,497.24 696.53,496.95 C698.52,496.67 700.52,496.40 702.51,496.16 C704.51,495.92 706.51,495.70 708.52,495.49 C710.52,495.29 712.53,495.10 714.54,494.94 C716.55,494.77 718.56,494.61 720.58,494.48 C722.59,494.34 724.61,494.22 726.63,494.11 C728.65,494.00 730.67,493.90 732.69,493.82 C734.72,493.73 736.74,493.66 738.77,493.62 C740.79,493.57 742.82,493.54 744.84,493.54 C746.86,493.54 748.88,493.57 750.90,493.63 C752.92,493.70 754.93,493.79 756.94,493.93 C758.94,494.06 760.95,494.24 762.94,494.46 C764.94,494.68 766.93,494.94 768.91,495.26 C770.89,495.58 772.86,495.95 774.82,496.37 C776.78,496.79 778.74,497.26 780.69,497.76 C782.64,498.27 784.58,498.81 786.51,499.38 C788.45,499.95 790.37,500.56 792.30,501.18 C794.22,501.81 796.14,502.46 798.05,503.12 C799.97,503.78 801.88,504.46 803.78,505.14 C805.69,505.83 807.59,506.52 809.49,507.21 C811.39,507.90 813.29,508.59 815.18,509.28 C817.08,509.97 818.97,510.65 820.86,511.34 C822.76,512.02 824.65,512.71 826.54,513.39 C828.43,514.08 830.32,514.76 832.21,515.44 C834.10,516.12 835.99,516.80 837.89,517.48 C839.78,518.16 841.67,518.83 843.57,519.51 C845.46,520.19 847.36,520.86 849.26,521.53 C851.16,522.21 853.06,522.88 854.96,523.55 C856.87,524.21 858.77,524.88 860.68,525.53 C862.59,526.19 864.51,526.83 866.43,527.47 C868.34,528.10 870.26,528.72 872.19,529.33 C874.12,529.93 876.05,530.52 877.98,531.09 C879.92,531.66 881.86,532.21 883.80,532.74 C885.75,533.27 887.70,533.77 889.66,534.25 C891.61,534.73 893.58,535.18 895.55,535.61 C897.51,536.03 899.49,536.43 901.46,536.81 C903.44,537.19 905.43,537.55 907.41,537.88 C909.40,538.22 911.39,538.53 913.38,538.83 C915.38,539.12 917.37,539.40 919.37,539.66 C921.37,539.92 923.38,540.16 925.38,540.39 C927.39,540.61 929.39,540.83 931.40,541.02 C933.41,541.22 935.42,541.41 937.43,541.58 C939.44,541.76 941.46,541.92 943.47,542.08 C945.48,542.23 947.50,542.37 949.51,542.51 C951.52,542.65 953.53,542.78 955.54,542.90 C957.56,543.03 959.57,543.15 961.58,543.26 C963.58,543.38 965.59,543.49 967.60,543.60" fill="none" stroke="#3a4ac8" stroke-width="1.05"/>
<path d="M235.61,27.75 C235.65,29.76 235.69,31.77 235.73,33.78 C235.76,35.79 235.79,37.80 235.82,39.81 C235.85,41.82 235.88,43.83 235.90,45.84 C235.93,47.85 235.95,49.86 235.96,51.88 C235.98,53.89 236.00,55.90 236.02,57.91 C236.03,59.92 236.04,61.93 236.06,63.95 C236.07,65.96 236.08,67.97 236.09,69.98 C236.10,72.00 236.11,74.01 236.12,76.02 C236.13,78.03 236.14,80.04 236.14,82.06 C236.15,84.07 236.16,86.08 236.17,88.09 C236.18,90.11 236.19,92.12 236.20,94.13 C236.22,96.15 236.23,98.16 236.24,100.17 C236.26,102.18 236.27,104.19 236.29,106.21 C236.31,108.22 236.33,110.23 236.35,112.24 C236.37,114.26 236.39,116.27 236.42,118.28 C236.45,120.29 236.48,122.30 236.51,124.32 C236.55,126.33 236.58,128.34 236.62,130.35 C236.66,132.36 236.71,134.37 236.76,136.38 C236.81,138.39 236.86,140.41 236.92,142.42 C236.97,144.43 237.04,146.44 237.10,148.45 C237.17,150.46 237.24,152.47 237.32,154.48 C237.40,156.48 237.48,158.49 237.57,160.50 C237.66,162.51 237.76,164.52 237.86,166.53 C237.96,168.54 238.07,170.54 238.19,172.55 C238.31,174.56 238.43,176.57 238.56,178.57 C238.69,180.58 238.83,182.59 238.97,184.59 C239.12,186.60 239.27,188.60 239.43,190.61 C239.60,192.61 239.77,194.62 239.94,196.62 C240.12,198.62 240.30,200.63 240.49,202.63 C240.68,204.63 240.87,206.64 241.07,208.64 C241.27,210.64 241.47,212.65 241.67,214.65 C241.88,216.65 242.08,218.65 242.29,220.65 C242.50,222.66 242.70,224.66 242.91,226.66 C243.12,228.66 243.32,230.66 243.53,232.67 C243.73,234.67 243.93,236.67 244.13,238.67 C244.33,240.67 244.52,242.68 244.71,244.68 C244.90,246.68 245.08,248.68 245.26,250.68 C245.44,252.69 245.61,254.69 245.78,256.69 C245.94,258.70 246.10,260.70 246.26,262.71 C246.41,264.71 246.57,266.71 246.72,268.72 C246.87,270.73 247.01,272.73 247.15,274.74 C247.30,276.75 247.44,278.76 247.58,280.77 C247.72,282.78 247.86,284.79 248.03,286.80 C248.20,288.81 248.39,290.81 248.62,292.81 C248.85,294.80 249.14,296.79 249.48,298.77 C249.82,300.75 250.20,302.72 250.57,304.69 C250.93,306.67 251.29,308.65 251.57,310.65 C251.85,312.65 252.07,314.67 252.27,316.68 C252.47,318.70 252.65,320.73 252.85,322.74 C253.06,324.76 253.29,326.77 253.58,328.76 C253.87,330.75 254.23,332.73 254.69,334.68 C255.15,336.62 255.73,338.54 256.45,340.42 C257.17,342.30 258.02,344.15 258.82,346.01 C259.63,347.87 260.37,349.74 260.90,351.66 C261.42,353.58 261.76,355.55 262.04,357.54 C262.32,359.52 262.55,361.53 262.88,363.51 C263.21,365.49 263.63,367.46 264.23,369.38 C264.83,371.30 265.62,373.15 266.39,375.02 C267.16,376.88 267.86,378.76 268.38,380.69 C268.91,382.62 269.31,384.59 269.64,386.58 C269.97,388.57 270.23,390.57 270.49,392.58 C270.75,394.59 271.01,396.60 271.31,398.59 C271.61,400.59 271.93,402.58 272.29,404.56 C272.65,406.54 273.04,408.51 273.47,410.48 C273.90,412.44 274.35,414.40 274.85,416.35 C275.35,418.30 275.89,420.24 276.44,422.17 C277.00,424.11 277.57,426.04 278.06,427.99 C278.54,429.94 278.93,431.91 279.24,433.90 C279.56,435.88 279.81,437.88 280.05,439.88 C280.29,441.88 280.53,443.88 280.81,445.88 C281.08,447.87 281.37,449.86 281.68,451.85 C281.99,453.84 282.32,455.82 282.66,457.80 C283.00,459.79 283.35,461.77 283.72,463.74 C284.08,465.72 284.45,467.70 284.83,469.67 C285.21,471.65 285.60,473.62 285.98,475.60 C286.37,477.57 286.76,479.54 287.15,481.52 C287.55,483.49 287.94,485.46 288.34,487.44 C288.74,489.41 289.14,491.38 289.54,493.35 C289.94,495.32 290.35,497.30 290.75,499.27 C291.16,501.24 291.56,503.21 291.98,505.17 C292.40,507.14 292.83,509.11 293.29,511.06 C293.76,513.02 294.25,514.96 294.80,516.90 C295.34,518.83 295.94,520.75 296.60,522.66 C297.26,524.56 298.01,526.44 298.76,528.32 C299.50,530.20 300.24,532.08 300.85,533.99 C301.46,535.90 301.92,537.84 302.18,539.82 C302.44,541.80 302.61,543.79 303.15,545.69 C303.69,547.58 304.53,549.39 305.53,551.16 C306.53,552.92 307.64,554.65 308.62,556.42 C309.59,558.20 310.50,559.99 311.42,561.78 C312.35,563.56 313.29,565.33 314.33,567.04 C315.38,568.75 316.53,570.41 317.77,572.01 C319.01,573.60 320.35,575.13 321.77,576.58 C323.18,578.03 324.68,579.41 326.25,580.69 C327.81,581.98 329.44,583.18 331.13,584.27 C332.83,585.37 334.57,586.37 336.36,587.25 C338.15,588.14 339.99,588.91 341.85,589.56 C343.72,590.21 345.62,590.75 347.55,591.18 C349.48,591.62 351.43,591.95 353.41,592.20 C355.38,592.46 357.38,592.62 359.39,592.72 C361.40,592.81 363.42,592.84 365.45,592.81 C367.48,592.78 369.52,592.69 371.56,592.57 C373.60,592.44 375.64,592.28 377.68,592.09 C379.71,591.90 381.74,591.69 383.76,591.46 C385.78,591.23 387.79,590.98 389.80,590.71 C391.80,590.44 393.80,590.15 395.79,589.85 C397.79,589.54 399.77,589.22 401.75,588.88 C403.74,588.54 405.71,588.18 407.68,587.81 C409.65,587.43 411.62,587.04 413.58,586.63 C415.54,586.23 417.49,585.81 419.44,585.37 C421.39,584.93 423.34,584.48 425.28,584.01 C427.23,583.55 429.17,583.07 431.11,582.58 C433.04,582.08 434.98,581.58 436.91,581.06 C438.84,580.54 440.77,580.01 442.70,579.46 C444.63,578.92 446.55,578.36 448.48,577.80 C450.40,577.23 452.33,576.65 454.25,576.07 C456.17,575.48 458.09,574.88 460.01,574.28 C461.93,573.67 463.85,573.06 465.77,572.44 C467.69,571.82 469.60,571.19 471.52,570.55 C473.43,569.92 475.35,569.28 477.26,568.64 C479.17,567.99 481.08,567.34 482.99,566.69 C484.90,566.04 486.81,565.39 488.72,564.73 C490.63,564.08 492.54,563.42 494.44,562.76 C496.35,562.10 498.25,561.44 500.16,560.79 C502.06,560.13 503.96,559.47 505.87,558.81 C507.77,558.15 509.66,557.49 511.56,556.83 C513.46,556.16 515.35,555.49 517.24,554.81 C519.13,554.13 521.02,553.45 522.90,552.75 C524.78,552.05 526.66,551.35 528.53,550.62 C530.40,549.90 532.27,549.17 534.13,548.42 C536.00,547.67 537.86,546.90 539.71,546.13 C541.56,545.35 543.41,544.57 545.26,543.77 C547.11,542.98 548.95,542.17 550.79,541.36 C552.63,540.54 554.46,539.72 556.30,538.89 C558.13,538.06 559.97,537.23 561.80,536.39 C563.63,535.55 565.46,534.70 567.29,533.86 C569.11,533.01 570.94,532.16 572.77,531.31 C574.60,530.46 576.42,529.60 578.25,528.75 C580.08,527.90 581.90,527.05 583.73,526.20 C585.56,525.35 587.39,524.50 589.22,523.66 C591.05,522.81 592.88,521.97 594.72,521.14 C596.55,520.30 598.39,519.48 600.23,518.66 C602.06,517.83 603.91,517.02 605.75,516.22 C607.60,515.41 609.45,514.61 611.30,513.83 C613.15,513.04 615.01,512.27 616.87,511.51 C618.73,510.74 620.59,509.99 622.46,509.25 C624.33,508.51 626.20,507.78 628.08,507.06 C629.96,506.34 631.84,505.64 633.72,504.94 C635.61,504.25 637.50,503.57 639.39,502.90 C641.28,502.24 643.18,501.58 645.08,500.94 C646.98,500.30 648.89,499.68 650.80,499.07 C652.71,498.45 654.62,497.86 656.54,497.27 C658.46,496.69 660.38,496.12 662.30,495.57 C664.23,495.02 666.16,494.48 668.10,493.96 C670.03,493.44 671.97,492.94 673.92,492.45 C675.86,491.97 677.81,491.50 679.76,491.04 C681.72,490.59 683.68,490.15 685.64,489.74 C687.60,489.32 689.57,488.92 691.54,488.54 C693.51,488.15 695.49,487.79 697.47,487.45 C699.45,487.10 701.43,486.78 703.42,486.47 C705.42,486.16 707.41,485.88 709.41,485.61 C711.41,485.35 713.41,485.10 715.42,484.87 C717.43,484.65 719.44,484.45 721.46,484.26 C723.47,484.08 725.49,483.92 727.51,483.79 C729.53,483.65 731.55,483.54 733.57,483.45 C735.59,483.36 737.62,483.29 739.64,483.25 C741.66,483.21 743.68,483.19 745.71,483.20 C747.73,483.21 749.75,483.25 751.76,483.31 C753.78,483.37 755.80,483.46 757.81,483.58 C759.82,483.70 761.83,483.84 763.84,484.01 C765.84,484.19 767.84,484.39 769.84,484.62 C771.83,484.85 773.82,485.11 775.81,485.40 C777.79,485.70 779.77,486.02 781.74,486.37 C783.71,486.73 785.68,487.11 787.63,487.53 C789.59,487.95 791.54,488.40 793.48,488.88 C795.42,489.36 797.35,489.87 799.27,490.41 C801.20,490.95 803.11,491.51 805.03,492.10 C806.94,492.69 808.84,493.31 810.74,493.94 C812.64,494.57 814.54,495.23 816.43,495.90 C818.32,496.57 820.21,497.25 822.09,497.95 C823.98,498.65 825.86,499.37 827.74,500.09 C829.62,500.81 831.49,501.55 833.37,502.29 C835.24,503.03 837.11,503.77 838.99,504.52 C840.86,505.27 842.73,506.03 844.60,506.78 C846.48,507.53 848.35,508.28 850.23,509.03 C852.10,509.78 853.98,510.52 855.85,511.26 C857.73,512.00 859.61,512.73 861.50,513.45 C863.38,514.17 865.27,514.88 867.16,515.57 C869.05,516.27 870.94,516.95 872.84,517.61 C874.74,518.28 876.65,518.92 878.56,519.55 C880.47,520.18 882.38,520.78 884.31,521.36 C886.23,521.94 888.16,522.50 890.10,523.03 C892.04,523.56 893.98,524.06 895.94,524.54 C897.89,525.02 899.85,525.47 901.81,525.90 C903.78,526.33 905.75,526.74 907.72,527.12 C909.70,527.51 911.68,527.88 913.66,528.22 C915.65,528.57 917.64,528.90 919.63,529.22 C921.62,529.53 923.61,529.83 925.61,530.11 C927.61,530.40 929.61,530.67 931.61,530.92 C933.61,531.18 935.61,531.43 937.61,531.67 C939.62,531.90 941.62,532.13 943.62,532.35 C945.62,532.57 947.63,532.78 949.63,532.99 C951.63,533.20 953.63,533.40 955.63,533.60 C957.62,533.80 959.62,534.00 961.61,534.19 C963.60,534.39 965.59,534.58 967.58,534.78" fill="none" stroke="#484848" stroke-width="1.05"/>
<line x1="147.7" y1="27.5" x2="147.7" y2="635.1" stroke="#000" stroke-width="2.2"/>
<line x1="146.6" y1="634" x2="968.8" y2="634" stroke="#000" stroke-width="2.2"/>
<line x1="135.6" y1="634.00" x2="147.7" y2="634.00" stroke="#000" stroke-width="2.2"/>
<line x1="141.6" y1="583.46" x2="147.7" y2="583.46" stroke="#000" stroke-width="2.2"/>
<line x1="135.6" y1="532.92" x2="147.7" y2="532.92" stroke="#000" stroke-width="2.2"/>
<line x1="141.6" y1="482.38" x2="147.7" y2="482.38" stroke="#000" stroke-width="2.2"/>
<line x1="135.6" y1="431.83" x2="147.7" y2="431.83" stroke="#000" stroke-width="2.2"/>
<line x1="141.6" y1="381.29" x2="147.7" y2="381.29" stroke="#000" stroke-width="2.2"/>
<line x1="135.6" y1="330.75" x2="147.7" y2="330.75" stroke="#000" stroke-width="2.2"/>
<line x1="141.6" y1="280.21" x2="147.7" y2="280.21" stroke="#000" stroke-width="2.2"/>
<line x1="135.6" y1="229.67" x2="147.7" y2="229.67" stroke="#000" stroke-width="2.2"/>
<line x1="141.6" y1="179.12" x2="147.7" y2="179.12" stroke="#000" stroke-width="2.2"/>
<line x1="135.6" y1="128.58" x2="147.7" y2="128.58" stroke="#000" stroke-width="2.2"/>
<line x1="141.6" y1="78.04" x2="147.7" y2="78.04" stroke="#000" stroke-width="2.2"/>
<line x1="135.6" y1="27.50" x2="147.7" y2="27.50" stroke="#000" stroke-width="2.2"/>
<line x1="147.70" y1="634" x2="147.70" y2="646" stroke="#000" stroke-width="2.2"/>
<line x1="258.46" y1="634" x2="258.46" y2="646" stroke="#000" stroke-width="2.2"/>
<line x1="369.22" y1="634" x2="369.22" y2="646" stroke="#000" stroke-width="2.2"/>
<line x1="479.98" y1="634" x2="479.98" y2="646" stroke="#000" stroke-width="2.2"/>
<line x1="590.74" y1="634" x2="590.74" y2="646" stroke="#000" stroke-width="2.2"/>
<line x1="701.50" y1="634" x2="701.50" y2="646" stroke="#000" stroke-width="2.2"/>
<line x1="812.26" y1="634" x2="812.26" y2="646" stroke="#000" stroke-width="2.2"/>
<line x1="923.02" y1="634" x2="923.02" y2="646" stroke="#000" stroke-width="2.2"/>
<line x1="203.08" y1="634" x2="203.08" y2="640" stroke="#000" stroke-width="2.2"/>
<line x1="313.84" y1="634" x2="313.84" y2="640" stroke="#000" stroke-width="2.2"/>
<line x1="424.60" y1="634" x2="424.60" y2="640" stroke="#000" stroke-width="2.2"/>
<line x1="535.36" y1="634" x2="535.36" y2="640" stroke="#000" stroke-width="2.2"/>
<line x1="646.12" y1="634" x2="646.12" y2="640" stroke="#000" stroke-width="2.2"/>
<line x1="756.88" y1="634" x2="756.88" y2="640" stroke="#000" stroke-width="2.2"/>
<line x1="867.64" y1="634" x2="867.64" y2="640" stroke="#000" stroke-width="2.2"/>
<text transform="translate(128.5,649.1) scale(1.0,1)" text-anchor="end" class="s" font-size="50">0.0</text>
<text transform="translate(128.5,548.0) scale(1.0,1)" text-anchor="end" class="s" font-size="50">0.5</text>
<text transform="translate(128.5,446.9) scale(1.0,1)" text-anchor="end" class="s" font-size="50">1.0</text>
<text transform="translate(128.5,345.9) scale(1.0,1)" text-anchor="end" class="s" font-size="50">1.5</text>
<text transform="translate(128.5,244.8) scale(1.0,1)" text-anchor="end" class="s" font-size="50">2.0</text>
<text transform="translate(128.5,143.7) scale(1.0,1)" text-anchor="end" class="s" font-size="50">2.5</text>
<text transform="translate(128.5,42.6) scale(1.0,1)" text-anchor="end" class="s" font-size="50">3.0</text>
<text transform="translate(147.7,692.3) scale(1.0,1)" text-anchor="middle" class="s" font-size="50">200</text>
<text transform="translate(258.5,692.3) scale(1.0,1)" text-anchor="middle" class="s" font-size="50">300</text>
<text transform="translate(369.2,692.3) scale(1.0,1)" text-anchor="middle" class="s" font-size="50">400</text>
<text transform="translate(480.0,692.3) scale(1.0,1)" text-anchor="middle" class="s" font-size="50">500</text>
<text transform="translate(590.7,692.3) scale(1.0,1)" text-anchor="middle" class="s" font-size="50">600</text>
<text transform="translate(701.5,692.3) scale(1.0,1)" text-anchor="middle" class="s" font-size="50">700</text>
<text transform="translate(812.3,692.3) scale(1.0,1)" text-anchor="middle" class="s" font-size="50">800</text>
<text transform="translate(923.0,692.3) scale(1.0,1)" text-anchor="middle" class="s" font-size="50">900</text>
<g transform="translate(532.4,746.7)"><path d="M1,-23.6 C1.4,-28.6 5,-30.3 7.6,-28.2 C9.6,-26.5 10.1,-23 10.7,-20 L13.6,-5.5 C14.4,-2 15.8,-0.3 17.9,-0.3 C19.9,-0.3 21,-2.6 21.2,-5.4" fill="none" stroke="#000" stroke-width="1.9" stroke-linecap="butt"/><path d="M-0.3,0 L3.7,0 L11.2,-14.3 L9.6,-19.5 Z" fill="#000"/></g>
<text x="554.8" y="746.8" class="s" font-size="50">,</text><text x="577.2" y="746.8" class="s" font-size="49.3">nm</text>
<text transform="translate(41.6,308.7) rotate(-90)" text-anchor="middle" class="s" font-size="49">Absorption</text>
<rect x="669.5" y="34.5" width="328" height="198" fill="#fff" stroke="#505050" stroke-width="1"/>
<line x1="691.8" y1="61.6" x2="756.7" y2="61.6" stroke="#808080" stroke-width="1.1"/>
<text x="763.5" y="71.2" class="s" font-size="29.1">(Mo])=100</text>
<line x1="691.8" y1="97.6" x2="756.7" y2="97.6" stroke="#7078d4" stroke-width="1.1"/>
<text x="763.5" y="107.2" class="s" font-size="29.1">(Mo)/(W) = 95/5</text>
<line x1="691.8" y1="133.6" x2="756.7" y2="133.6" stroke="#8c9cff" stroke-width="1.1"/>
<text x="763.5" y="143.2" class="s" font-size="29.1">(Mo)/(W) = 90/10</text>
<line x1="691.8" y1="169.6" x2="756.7" y2="169.6" stroke="#a8b4ff" stroke-width="1.1"/>
<text x="763.5" y="179.2" class="s" font-size="29.1">(Mo)/(W) = 80/20</text>
<line x1="691.8" y1="205.6" x2="756.7" y2="205.6" stroke="#c8d0ff" stroke-width="1.1"/>
<text x="763.5" y="215.2" class="s" font-size="29.1">(Mo)/(W) = 50/50</text>
<line x1="752.5" y1="468.4" x2="700.5" y2="583.5" stroke="#333" stroke-width="1.0" stroke-dasharray="3.4,4.2" stroke-dashoffset="-1.0"/>
<g transform="translate(703,442)"><path d="M1,-23.6 C1.4,-28.6 5,-30.3 7.6,-28.2 C9.6,-26.5 10.1,-23 10.7,-20 L13.6,-5.5 C14.4,-2 15.8,-0.3 17.9,-0.3 C19.9,-0.3 21,-2.6 21.2,-5.4" fill="none" stroke="#000" stroke-width="1.9" stroke-linecap="butt"/><path d="M-0.3,0 L3.7,0 L11.2,-14.3 L9.6,-19.5 Z" fill="#000"/></g>
<text x="725.2" y="457.6" class="a" font-size="33">max</text>
</svg></div>
</body></html>
